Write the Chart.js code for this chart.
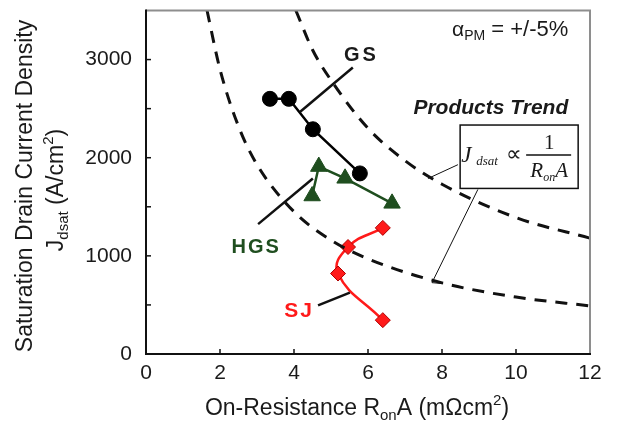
<!DOCTYPE html>
<html><head><meta charset="utf-8">
<script src="https://cdn.jsdelivr.net/npm/chart.js@4/dist/chart.umd.min.js"></script>
<style>html,body{margin:0;padding:0;background:#fff}#wrap{width:619px;height:425px}</style>
</head><body><div id="wrap"><canvas id="c" width="619" height="425"></canvas></div>
<script>
// ---- data ----
const xTickValues = [0, 2, 4, 6, 8, 10, 12];
const yTickLabels = [0, 1000, 2000, 3000];
const gsX = [3.35, 3.86, 4.51, 5.78];
const gsY = [2600, 2600, 2290, 1840];
const hgsX = [4.49, 4.67, 5.38, 6.65];
const hgsY = [1610, 1910, 1790, 1535];
const sjX = [6.4, 5.46, 5.19, 6.4];
const sjY = [1285, 1090, 820, 345];
const trendInnerX = [1.65, 2, 2.5, 3, 4, 5, 6, 8, 10, 12];
const trendInnerY = [3500, 2900, 2320, 1930, 1450, 1160, 970, 725, 580, 490];
const trendOuterX = [4.05, 4.5, 5, 6, 7, 8, 10, 12];
const trendOuterY = [3500, 3100, 2790, 2300, 1970, 1730, 1390, 1180];
// annotation leader lines (data units)
const leaderGSX = [4.16, 5.59], leaderGSY = [2465, 2919];
const leaderHGSX = [4.51, 3.03], leaderHGSY = [1788, 1323];
const leaderSJX = [5.51, 4.65], leaderSJY = [626, 495];
const leaderBox1X = [8.43, 7.62], leaderBox1Y = [1929, 1788];
const leaderBox2X = [8.97, 7.73, 8.03], leaderBox2Y = [1677, 727, 717];

const SANS = '"Liberation Sans", Arial, sans-serif';
const SERIF = '"Liberation Serif", "Times New Roman", serif';
const TXT = '#1a1a1a';
const GREEN = '#1f4e1f';
const RED = '#ff1a1a';

const pts = (xs, ys) => xs.map((x, i) => ({x, y: ys[i]}));

function fontStr(p) {
  return (p.style || '') + ' ' + (p.weight || '') + ' ' + p.size + 'px ' + (p.family || SANS);
}
function drawRuns(ctx, parts, x, y, align, sx) {
  sx = sx || 1;
  let w = 0;
  parts.forEach(p => {
    ctx.font = fontStr(p);
    p.w = ctx.measureText(p.t).width + (p.ls || 0) * (p.t.length - 1);
    w += p.w;
  });
  const start = align === 'center' ? x - w * sx / 2 : align === 'right' ? x - w * sx : x;
  ctx.save();
  ctx.translate(start, y);
  ctx.scale(sx, 1);
  ctx.textBaseline = 'alphabetic';
  ctx.textAlign = 'left';
  let cx = 0;
  parts.forEach(p => {
    ctx.font = fontStr(p);
    ctx.fillStyle = p.c || TXT;
    if (p.ls) {
      for (const ch of p.t) { ctx.fillText(ch, cx, p.dy || 0); cx += ctx.measureText(ch).width + p.ls; }
      cx -= p.ls;
    } else {
      ctx.fillText(p.t, cx, p.dy || 0);
      cx += p.w;
    }
  });
  ctx.restore();
  return w * sx;
}

const decor = {
  id: 'decor',
  afterDatasetsDraw(chart) {
    const ctx = chart.ctx;
    const xs = chart.scales.x, ys = chart.scales.y;
    const a = chart.chartArea;
    const X = v => xs.getPixelForValue(v), Y = v => ys.getPixelForValue(v);
    ctx.save();
    // frame
    ctx.lineCap = 'butt';
    ctx.strokeStyle = '#8e8e8e'; ctx.lineWidth = 2;
    ctx.beginPath(); ctx.moveTo(a.left, a.top); ctx.lineTo(a.right, a.top); ctx.lineTo(a.right, a.bottom); ctx.stroke();
    ctx.strokeStyle = '#111'; ctx.lineWidth = 2;
    ctx.beginPath(); ctx.moveTo(a.left, a.top - 1); ctx.lineTo(a.left, a.bottom); ctx.lineTo(a.right + 1, a.bottom); ctx.stroke();
    // inward ticks
    ctx.lineWidth = 1.5;
    ys.ticks.forEach(t => { if (t.value > 0 && t.value < ys.max) { const py = Y(t.value); ctx.beginPath(); ctx.moveTo(a.left, py); ctx.lineTo(a.left + 5, py); ctx.stroke(); } });
    xs.ticks.forEach(t => { if (t.value > 0 && t.value < xs.max) { const px = X(t.value); ctx.beginPath(); ctx.moveTo(px, a.bottom); ctx.lineTo(px, a.bottom - 5); ctx.stroke(); } });

    // formula box
    const bl = X(8.49), br = X(11.68), bt = Y(2333), bb = Y(1687);
    ctx.fillStyle = '#fff'; ctx.fillRect(bl, bt, br - bl, bb - bt);
    ctx.strokeStyle = '#111'; ctx.lineWidth = 1.5; ctx.strokeRect(bl, bt, br - bl, bb - bt);
    drawRuns(ctx, [{t: 'J', size: 23, style: 'italic', family: SERIF}], bl + 1, bt + 37, 'left');
    drawRuns(ctx, [{t: 'dsat', size: 13, style: 'italic', family: SERIF}], bl + 16, bt + 40, 'left');
    drawRuns(ctx, [{t: '\u221D', size: 22, family: SERIF}], bl + 46, bt + 36, 'left');
    const fc = bl + 89;
    drawRuns(ctx, [{t: '1', size: 21, family: SERIF}], fc, bt + 24, 'center');
    ctx.beginPath(); ctx.lineWidth = 1.4; ctx.moveTo(bl + 66, bt + 30); ctx.lineTo(bl + 111, bt + 30); ctx.stroke();
    drawRuns(ctx, [
      {t: 'R', size: 21, style: 'italic', family: SERIF},
      {t: 'on', size: 12, style: 'italic', family: SERIF, dy: 4},
      {t: 'A', size: 21, style: 'italic', family: SERIF}
    ], fc, bt + 52, 'center');

    // annotations
    drawRuns(ctx, [{t: 'GS', size: 20, weight: 'bold', ls: 3}], X(5.78), Y(2990), 'center');
    drawRuns(ctx, [{t: 'HGS', size: 20, weight: 'bold', ls: 2, c: GREEN}], X(2.95), Y(1030), 'center');
    drawRuns(ctx, [{t: 'SJ', size: 21, weight: 'bold', ls: 2, c: RED}], X(4.11), Y(374), 'center');
    drawRuns(ctx, [{t: 'Products Trend', size: 21, weight: 'bold', style: 'italic'}], X(9.32), Y(2444), 'center');
    drawRuns(ctx, [
      {t: '\u03B1', size: 21},
      {t: 'PM', size: 14, dy: 4},
      {t: ' = +/-5%', size: 22}
    ], X(8.27), Y(3242), 'left');

    // axis titles
    drawRuns(ctx, [
      {t: 'On-Resistance R', size: 23},
      {t: 'on', size: 15, dy: 5},
      {t: 'A (m\u03A9cm', size: 23},
      {t: '2', size: 15, dy: -10},
      {t: ')', size: 23}
    ], 357, 415, 'center');
    ctx.save();
    ctx.translate(32, 186); ctx.rotate(-Math.PI / 2);
    drawRuns(ctx, [{t: 'Saturation Drain Current Density', size: 23}], 0, 0, 'center');
    ctx.restore();
    ctx.save();
    ctx.translate(63, 190); ctx.rotate(-Math.PI / 2);
    drawRuns(ctx, [
      {t: 'J', size: 23},
      {t: 'dsat', size: 15, dy: 5},
      {t: ' (A/cm', size: 23},
      {t: '2', size: 15, dy: -10},
      {t: ')', size: 23}
    ], 0, 0, 'center');
    ctx.restore();
    ctx.restore();
  }
};

const dashed = {borderColor: '#111', borderWidth: 3, borderDash: [12, 9], pointRadius: 0, showLine: true, cubicInterpolationMode: 'monotone', fill: false};
const leader = (xs, ys, w) => ({data: pts(xs, ys), borderColor: '#111', borderWidth: w, pointRadius: 0, showLine: true, tension: 0, fill: false});

new Chart(document.getElementById('c'), {
  type: 'scatter',
  data: {
    datasets: [
      Object.assign({data: pts(trendInnerX, trendInnerY)}, dashed),
      Object.assign({data: pts(trendOuterX, trendOuterY)}, dashed),
      leader(leaderGSX, leaderGSY, 2.5),
      leader(leaderHGSX, leaderHGSY, 2.5),
      leader(leaderSJX, leaderSJY, 2.5),
      leader(leaderBox1X, leaderBox1Y, 1),
      leader(leaderBox2X, leaderBox2Y, 1),
      {data: pts(gsX, gsY), showLine: true, borderColor: '#000', backgroundColor: '#000', borderWidth: 2.5,
       pointStyle: 'circle', pointRadius: 7.5, pointBorderWidth: 1, tension: 0},
      {data: pts(hgsX, hgsY), showLine: true, borderColor: GREEN, backgroundColor: GREEN, borderWidth: 2.5,
       pointStyle: 'triangle', pointRadius: 9.5, pointBorderWidth: 1, tension: 0},
      {data: pts(sjX, sjY), showLine: true, borderColor: RED, backgroundColor: RED, borderWidth: 2.5,
       pointStyle: 'rectRot', pointRadius: 7.5, pointBorderColor: '#b00000', pointBorderWidth: 1, tension: 0.45}
    ]
  },
  options: {
    responsive: false, animation: false, devicePixelRatio: 1,
    layout: {padding: {left: 0, right: 29, top: 6, bottom: 0}},
    plugins: {legend: {display: false}, tooltip: {enabled: false}},
    scales: {
      x: {
        type: 'linear', min: 0, max: 12,
        afterBuildTicks: s => { s.ticks = xTickValues.map(v => ({value: v})); },
        ticks: {font: {family: SANS, size: 21}, color: TXT, padding: 7, maxRotation: 0, autoSkip: false},
        grid: {display: false, drawTicks: false}, border: {display: false},
        afterFit: s => { s.height = 71; s.paddingLeft = 0; s.paddingRight = 0; }
      },
      y: {
        type: 'linear', min: 0, max: 3500,
        ticks: {stepSize: 500, font: {family: SANS, size: 21}, color: TXT, padding: 14, autoSkip: false,
          callback: v => yTickLabels.includes(v) ? String(v) : ''},
        grid: {display: false, drawTicks: false}, border: {display: false},
        afterFit: s => { s.width = 146; s.paddingTop = 0; s.paddingBottom = 0; }
      }
    }
  },
  plugins: [decor]
});
</script>
</body></html>
